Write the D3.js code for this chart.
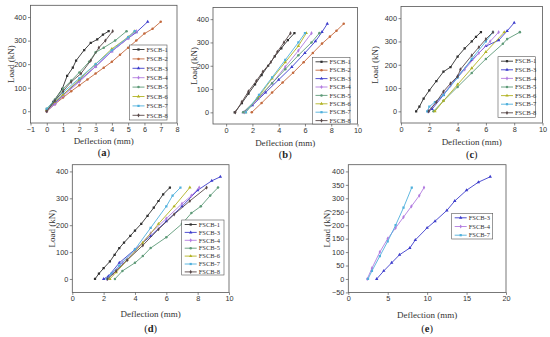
<!DOCTYPE html>
<html>
<head>
<meta charset="utf-8">
<script src="https://cdn.jsdelivr.net/npm/d3@7.9.0/dist/d3.min.js"></script>
<style>
  body { margin: 0; background: #fff; }
  svg { display: block; font-family: "Liberation Serif", "DejaVu Serif", serif; }
</style>
</head>
<body>
<svg id="fig" width="550" height="337"></svg>
<script>
// load (kN) vs deflection (mm) curves: [deflection, load]
const curvesA = {
  'FSCB-1': [[0, 0], [0.4, 40], [0.95, 95], [1.25, 150], [1.6, 185], [1.8, 215], [2.3, 260], [2.7, 290], [3.1, 305], [3.45, 325], [3.8, 340]],
  'FSCB-2': [[0, 0], [0.5, 30], [1, 58], [1.5, 85], [2, 110], [2.5, 135], [3, 160], [3.5, 185], [4, 210], [4.5, 240], [5, 270], [5.5, 300], [6, 330], [6.5, 350], [7, 380]],
  'FSCB-3': [[0, 5], [0.5, 35], [1, 70], [2, 130], [3, 190], [4, 255], [5, 310], [5.5, 335], [6.2, 380]],
  'FSCB-4': [[0, 0], [0.5, 30], [1, 65], [2, 125], [3, 190], [4, 255], [5, 310], [5.5, 340]],
  'FSCB-5': [[0, 10], [0.5, 50], [1, 95], [1.5, 130], [2, 165], [2.6, 210], [3, 250], [3.5, 270], [4.2, 300], [4.9, 340]],
  'FSCB-6': [[0, 5], [0.5, 40], [1, 70], [2, 135], [3, 200], [4, 265], [5, 315], [5.4, 340]],
  'FSCB-7': [[0, 10], [0.5, 45], [1, 80], [2, 140], [3, 200], [4, 260], [5, 315], [5.4, 340]],
  'FSCB-8': [[0, 0], [0.5, 45], [1, 85], [1.5, 125], [2.1, 160], [2.7, 215], [3.2, 270], [3.6, 300], [4.05, 340]],
};

const curvesB = {
  'FSCB-1': [[0.65, 0], [1.2, 40], [1.7, 80], [2.2, 120], [2.7, 160], [3.2, 200], [3.7, 240], [4.2, 275], [4.7, 310], [5.2, 340]],
  'FSCB-2': [[1.95, 0], [2.7, 40], [3.5, 85], [4.3, 128], [5.1, 170], [5.9, 215], [6.6, 255], [7.3, 295], [7.9, 325], [8.4, 350], [8.95, 380]],
  'FSCB-3': [[1.3, 0], [2, 30], [3, 85], [4, 140], [5, 195], [6, 255], [6.8, 305], [7.3, 345], [7.7, 380]],
  'FSCB-4': [[1.4, 0], [2.5, 60], [3.5, 125], [4.5, 195], [5.5, 265], [6.5, 340]],
  'FSCB-5': [[1.3, 0], [2.4, 60], [3.5, 125], [4.5, 185], [5.5, 245], [6.5, 300], [7.1, 340]],
  'FSCB-6': [[1.5, 0], [2.5, 70], [3.5, 145], [4.5, 215], [5.5, 285], [6.1, 340]],
  'FSCB-7': [[1.5, 0], [2.5, 75], [3.5, 150], [4.5, 225], [5.5, 300], [6, 340]],
  'FSCB-8': [[0.7, 0], [1.2, 45], [1.7, 90], [2.3, 135], [2.8, 175], [3.4, 215], [3.9, 260], [4.4, 300], [4.9, 340]],
};

const curvesC = {
  'FSCB-1': [[1.07, 0], [1.3, 20], [1.6, 55], [2, 90], [2.5, 130], [3, 170], [3.5, 190], [4, 235], [4.5, 270], [5, 300], [5.3, 320], [5.65, 340]],
  'FSCB-3': [[1.95, 0], [2.2, 10], [3, 70], [4, 150], [5, 220], [6, 280], [6.9, 305], [7.5, 345], [8, 380]],
  'FSCB-4': [[1.9, 0], [2.5, 40], [3.5, 110], [4.5, 180], [5.5, 250], [6.3, 300], [6.9, 340]],
  'FSCB-5': [[2.3, 0], [3, 45], [4, 105], [5, 165], [6, 225], [7.2, 290], [7.5, 310], [8.4, 340]],
  'FSCB-6': [[2.4, 0], [3, 45], [4, 115], [5, 185], [6, 255], [7.3, 340]],
  'FSCB-7': [[1.85, 0], [2, 20], [2.4, 40], [3, 70], [4, 145], [5, 225], [6, 300], [6.5, 340]],
  'FSCB-8': [[1.95, 0], [2.5, 40], [3, 85], [3.5, 120], [4, 150], [4.2, 180], [5, 240], [5.5, 275], [6, 310], [6.5, 340]],
};

const curvesD = {
  'FSCB-1': [[1.45, 0], [1.7, 20], [2, 40], [2.4, 65], [2.7, 90], [3, 115], [3.3, 135], [3.7, 160], [4, 180], [4.4, 205], [4.8, 235], [5.2, 265], [5.5, 290], [5.8, 315], [6.23, 340]],
  'FSCB-3': [[2, 0], [2.3, 10], [3, 60], [4, 110], [5, 160], [6, 215], [7, 270], [8, 330], [8.9, 365], [9.45, 380]],
  'FSCB-4': [[2.2, 0], [2.6, 20], [3.2, 60], [4, 105], [5, 170], [6, 225], [7, 280], [7.6, 310], [8.1, 340]],
  'FSCB-5': [[2.72, 0], [3.2, 30], [4, 60], [4.5, 85], [5, 115], [6, 155], [7, 205], [7.6, 245], [8.2, 270], [8.8, 310], [9.3, 340]],
  'FSCB-6': [[2.4, 0], [2.8, 25], [3.5, 70], [4.5, 135], [5.5, 205], [6.5, 270], [7.5, 340]],
  'FSCB-7': [[2.2, 0], [2.5, 20], [3, 50], [4, 110], [5, 190], [6, 270], [6.4, 310], [6.9, 340]],
  'FSCB-8': [[2.25, 0], [2.8, 30], [3.5, 70], [4.5, 125], [5.5, 185], [6.5, 240], [7.5, 290], [8.57, 340]],
};

const curvesE = {
  'FSCB-3': [[3.6, 0], [4.5, 30], [5.5, 60], [6.5, 90], [7.8, 115], [8.5, 145], [10, 190], [11, 215], [12.5, 255], [13.5, 290], [15, 330], [16.5, 360], [18, 380]],
  'FSCB-4': [[2.4, 0], [3, 40], [4, 100], [5, 150], [6, 190], [7, 230], [8, 270], [9, 310], [9.6, 340]],
  'FSCB-7': [[2.5, 0], [3, 30], [4, 85], [5, 140], [6, 200], [7, 265], [8.05, 340]],
};

const ticksAX = [-1, 0, 1, 2, 3, 4, 5, 6, 7, 8];
const ticksBX = [0, 2, 4, 6, 8, 10];
const ticksCX = [0, 2, 4, 6, 8, 10];
const ticksDX = [0, 2, 4, 6, 8, 10];
const ticksEX = [0, 5, 10, 15, 20];
const ticksLoad = [0, 100, 200, 300, 400];
const ticksLoadE = [-50, 0, 50, 100, 150, 200, 250, 300, 350, 400];

const colors = {
  'FSCB-1': '#2f2f2f',
  'FSCB-2': '#c46a3e',
  'FSCB-3': '#3d3dcc',
  'FSCB-4': '#b27ce0',
  'FSCB-5': '#5e9a78',
  'FSCB-6': '#b2b324',
  'FSCB-7': '#4fb0dc',
  'FSCB-8': '#584848',
};
const symbols = {
  'FSCB-1': d3.symbolSquare,
  'FSCB-2': d3.symbolCircle,
  'FSCB-3': d3.symbolTriangle,
  'FSCB-4': d3.symbolDiamond,
  'FSCB-5': d3.symbolCircle,
  'FSCB-6': d3.symbolTriangle,
  'FSCB-7': d3.symbolSquare,
  'FSCB-8': d3.symbolDiamond,
};

// box = [left, top, right, bottom]; legend = [x, y, w, h, row step]
const panels = [
  { tag: 'a', curves: curvesA, box: [30.5, 5.3, 177, 123], xDom: [-1, 8], yDom: [-50, 450], xTicks: ticksAX, yTicks: ticksLoad,
    legend: [129.5, 45, 37.5, 75, 9.4], ylab: 11, xlab: 141, caption: 152 },
  { tag: 'b', curves: curvesB, box: [213, 7.5, 357.5, 124], xDom: [-1, 10], yDom: [-50, 450], xTicks: ticksBX, yTicks: ticksLoad,
    legend: [312.5, 57.3, 37.5, 66.7, 8.4], ylab: 194, xlab: 143, caption: 154 },
  { tag: 'c', curves: curvesC, box: [401, 6.5, 542.5, 123], xDom: [0, 10], yDom: [-50, 450], xTicks: ticksCX, yTicks: ticksLoad,
    legend: [498, 56.7, 37.5, 60.6, 8.6], ylab: 375, xlab: 142, caption: 154 },
  { tag: 'd', curves: curvesD, box: [72.3, 164.7, 229, 292.4], xDom: [0, 10], yDom: [-50, 425], xTicks: ticksDX, yTicks: ticksLoad,
    legend: [181.7, 220, 42.3, 55, 7.9], ylab: 52, xlab: 314, caption: 328 },
  { tag: 'e', curves: curvesE, box: [348.3, 164.7, 506, 292.4], xDom: [0, 20], yDom: [-50, 425], xTicks: ticksEX, yTicks: ticksLoadE,
    legend: [451.7, 213.3, 41, 25.7, 8.7], ylab: 327, xlab: 315, caption: 328 },
];

const svg = d3.select('#fig');
const axisColor = '#555';

function drawPanel(p) {
  const [x0, y0, x1, y1] = p.box;
  const x = d3.scaleLinear().domain(p.xDom).range([x0, x1]);
  const y = d3.scaleLinear().domain(p.yDom).range([y1, y0]);
  const g = svg.append('g');

  // data curves, clipped to the frame
  const clipId = `clip-${p.tag}`;
  g.append('clipPath').attr('id', clipId)
    .append('rect').attr('x', x0).attr('y', y0).attr('width', x1 - x0).attr('height', y1 - y0);
  const plot = g.append('g').attr('clip-path', `url(#${clipId})`);
  const line = d3.line().x((d) => x(d[0])).y((d) => y(d[1]));

  Object.entries(p.curves).forEach(([name, pts]) => {
    plot.append('path')
      .attr('d', line(pts))
      .attr('fill', 'none')
      .attr('stroke', colors[name])
      .attr('stroke-width', 0.9);
    plot.selectAll(null)
      .data(pts)
      .join('path')
      .attr('transform', (d) => `translate(${x(d[0])},${y(d[1])})`)
      .attr('d', d3.symbol(symbols[name], 5))
      .attr('fill', colors[name]);
  });

  // frame and axes
  g.append('rect')
    .attr('x', x0).attr('y', y0).attr('width', x1 - x0).attr('height', y1 - y0)
    .attr('fill', 'none').attr('stroke', axisColor).attr('stroke-width', 0.8);

  const xAxis = g.append('g').attr('transform', `translate(0,${y1})`)
    .call(d3.axisBottom(x).tickValues(p.xTicks).tickSize(2.5).tickPadding(1).tickFormat(d3.format('d')));
  const yAxis = g.append('g').attr('transform', `translate(${x0},0)`)
    .call(d3.axisLeft(y).tickValues(p.yTicks).tickSize(2.5).tickPadding(1.5).tickFormat(d3.format('d')));
  [xAxis, yAxis].forEach((a) => {
    a.select('.domain').remove();
    a.selectAll('line').attr('stroke', axisColor).attr('stroke-width', 0.7);
    a.selectAll('text').attr('fill', '#333').attr('font-size', 7.3).attr('font-family', null);
  });

  // axis titles and panel caption
  const cx = (x0 + x1) / 2;
  g.append('text')
    .attr('x', cx).attr('y', p.xlab).attr('dy', '0.35em')
    .attr('text-anchor', 'middle').attr('font-size', 9).attr('fill', '#333')
    .text('Deflection (mm)');
  g.append('text')
    .attr('transform', `translate(${p.ylab},${(y0 + y1) / 2}) rotate(-90)`)
    .attr('text-anchor', 'middle').attr('dy', '0.35em').attr('font-size', 9).attr('fill', '#333')
    .text('Load (kN)');
  g.append('text')
    .attr('x', cx).attr('y', p.caption).attr('dy', '0.35em')
    .attr('text-anchor', 'middle').attr('font-size', 10.5).attr('fill', '#222')
    .html(`(<tspan font-weight="bold">${p.tag}</tspan>)`);

  // legend
  const [lx, ly, lw, lh, row] = p.legend;
  const lg = g.append('g');
  lg.append('rect')
    .attr('x', lx).attr('y', ly).attr('width', lw).attr('height', lh)
    .attr('fill', '#fff').attr('stroke', axisColor).attr('stroke-width', 0.6);
  Object.keys(p.curves).forEach((name, i) => {
    const ry = ly + 4.5 + i * row;
    lg.append('line')
      .attr('x1', lx + 3).attr('x2', lx + 15).attr('y1', ry).attr('y2', ry)
      .attr('stroke', colors[name]).attr('stroke-width', 0.9);
    lg.append('path')
      .attr('transform', `translate(${lx + 9},${ry})`)
      .attr('d', d3.symbol(symbols[name], 5))
      .attr('fill', colors[name]);
    lg.append('text')
      .attr('x', lx + 17).attr('y', ry).attr('dy', '0.35em')
      .attr('font-size', 6.5).attr('fill', '#333')
      .text(name);
  });
}

panels.forEach(drawPanel);
</script>
</body>
</html>
